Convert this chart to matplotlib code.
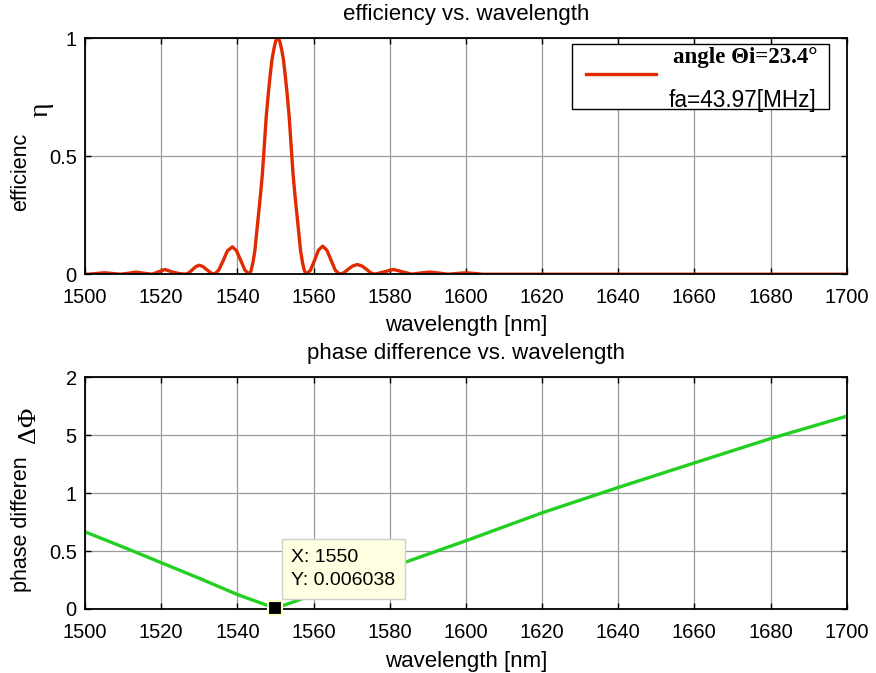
import matplotlib
matplotlib.use("Agg")
import matplotlib.pyplot as plt
from matplotlib.patches import Rectangle
from matplotlib.lines import Line2D

# ---------------- data ----------------
# efficiency vs wavelength
eta_wl = [1500.0, 1501.0, 1503.0, 1505.1, 1507.2, 1509.3, 1511.4, 1513.4, 1515.5, 1517.6,
          1519.3, 1521.0, 1522.8, 1524.6, 1526.4,
          1527.3, 1528.2, 1529.1, 1530.0, 1531.0, 1532.0, 1533.0, 1534.0,
          1535.1, 1536.3, 1537.4, 1538.7, 1539.8, 1540.9, 1542.0, 1543.1,
          1543.6, 1544.1, 1544.6, 1545.1, 1545.6, 1546.1, 1546.6, 1547.1, 1547.6, 1548.1,
          1548.6, 1549.1, 1549.6, 1550.1, 1550.6, 1551.1, 1551.6, 1552.1, 1552.6, 1553.1,
          1553.6, 1554.1, 1554.6, 1555.1, 1555.6, 1556.1, 1556.6, 1557.1, 1557.6, 1558.1,
          1559.2, 1560.3, 1561.3, 1562.4, 1563.5, 1564.6, 1565.7, 1566.8,
          1568.0, 1569.1, 1570.3, 1571.5, 1572.7, 1573.9, 1575.0, 1576.1,
          1578.5, 1581.0, 1583.4, 1585.8, 1588.1, 1590.5, 1592.9, 1595.2,
          1597.6, 1600.0, 1602.3, 1604.5, 1650.0, 1700.0]
eta_val = [0.000, 0.000, 0.003, 0.006, 0.003, 0.000, 0.004, 0.009, 0.004, 0.000,
           0.010, 0.020, 0.010, 0.003, 0.000,
           0.006, 0.019, 0.032, 0.038, 0.032, 0.019, 0.006, 0.000,
           0.017, 0.058, 0.099, 0.116, 0.099, 0.058, 0.017, 0.000,
           0.015, 0.050, 0.100, 0.180, 0.260, 0.340, 0.430, 0.550, 0.670, 0.760,
           0.840, 0.910, 0.955, 0.990, 1.000, 0.990, 0.955, 0.910, 0.840, 0.760,
           0.670, 0.550, 0.430, 0.340, 0.260, 0.180, 0.100, 0.050, 0.015, 0.000,
           0.017, 0.060, 0.102, 0.119, 0.102, 0.060, 0.017, 0.000,
           0.006, 0.021, 0.035, 0.041, 0.035, 0.021, 0.006, 0.000,
           0.010, 0.020, 0.010, 0.000, 0.005, 0.009, 0.005, 0.000,
           0.003, 0.006, 0.003, 0.000, 0.000, 0.000]

# phase difference vs wavelength
phase_wl = [1500, 1510, 1520, 1530, 1540, 1550, 1560, 1580, 1600, 1620, 1640, 1660, 1680, 1700]
phase_val = [0.666, 0.535, 0.400, 0.265, 0.125, 0.006, 0.123, 0.356, 0.589, 0.830,
             1.049, 1.261, 1.471, 1.664]

x_ticks = [1500, 1520, 1540, 1560, 1580, 1600, 1620, 1640, 1660, 1680, 1700]
eta_yticks = [0, 0.5, 1]
eta_yticklabels = ["0", "0.5", "1"]
phase_yticks = [0, 0.5, 1, 1.5, 2]
phase_yticklabels = ["0", "0.5", "1", "5", "2"]

tip_x = 1550
tip_y = 0.006038

# ---------------- figure ----------------
plt.rcParams['font.family'] = ['Liberation Sans', 'DejaVu Sans']
W, H = 876, 673
fig = plt.figure(figsize=(W / 100, H / 100), dpi=100)

def fx(px):
    return px / W

def fy(py):
    return 1 - py / H

ax1 = fig.add_axes([fx(85), fy(274.2), fx(846.7) - fx(85), fy(38.3) - fy(274.2)])
ax2 = fig.add_axes([fx(85), fy(609), fx(846.7) - fx(85), fy(377.3) - fy(609)])

red = '#e02a00'
green = '#22d022'
grid_col = '#9a9a9a'
tick_fs = 14.5
label_fs = 16

for ax in (ax1, ax2):
    ax.set_xlim(1500, 1700)
    ax.set_xticks(x_ticks)
    ax.grid(True, color=grid_col, lw=0.9, ls='-')
    ax.set_axisbelow(True)
    ax.tick_params(direction='in', length=4, width=1, top=True, right=True,
                   labelsize=tick_fs, colors='black')
    ax.tick_params(axis='x', pad=10)
    ax.tick_params(axis='y', pad=6)
    for s in ax.spines.values():
        s.set_linewidth(1.3)
        s.set_color('black')

ax1.plot(eta_wl, eta_val, color=red, lw=2.4, solid_joinstyle='round')
ax1.set_ylim(0, 1)
ax1.set_yticks(eta_yticks)
ax1.set_yticklabels(eta_yticklabels)
ax1.set_title('efficiency vs. wavelength', fontsize=label_fs, pad=13)
ax1.set_xlabel('wavelength [nm]', fontsize=label_fs, labelpad=5.5)

ax2.plot(phase_wl, phase_val, color=green, lw=2.4)
ax2.set_ylim(0, 2)
ax2.set_yticks(phase_yticks)
ax2.set_yticklabels(phase_yticklabels)
ax2.set_title('phase difference vs. wavelength', fontsize=label_fs, pad=13)
ax2.set_xlabel('wavelength [nm]', fontsize=label_fs, labelpad=6.5)

# y labels (split like the reference)
fig.text(fx(21), fy(172), 'efficienc', rotation=90, ha='center', va='center', fontsize=15.5)
fig.text(fx(41), fy(110), 'η', rotation=90, ha='center', va='center', fontsize=20,
         family=['Liberation Serif', 'DejaVu Serif'])
fig.text(fx(22), fy(524), 'phase differen', rotation=90, ha='center', va='center', fontsize=15.5)
fig.text(fx(29), fy(425), 'ΔΦ', rotation=90, ha='center', va='center', fontsize=19,
         family=['Liberation Serif', 'DejaVu Serif'])

# legend box (manual, MATLAB-like)
fig.add_artist(Rectangle((fx(571.7), fy(109)), fx(829.3) - fx(571.7), fy(44) - fy(109),
                         transform=fig.transFigure, facecolor='white', edgecolor='black',
                         lw=1.0, zorder=5))
fig.add_artist(Line2D([fx(586), fx(656)], [fy(74.3), fy(74.3)], transform=fig.transFigure,
                      color=red, lw=2.4, zorder=6))
fig.text(fx(673), fy(58), 'angle Θi=23.4°', ha='left', va='center', fontsize=16.5,
         fontweight='bold', family=['Liberation Serif', 'DejaVu Serif'], zorder=7)
fig.text(fx(669), fy(100), 'fa=43.97[MHz]', ha='left', va='center', fontsize=16.3, zorder=7)

# data tip
ax2.plot([tip_x], [tip_y], marker='s', ms=10, mfc='black', mec='#ffffc8', mew=1.5,
         zorder=10, clip_on=False)
ax2.text(1554.2, 0.345, 'X: %d\nY: %.6f' % (tip_x, tip_y), ha='left', va='center',
         fontsize=14, linespacing=1.45, zorder=9,
         bbox=dict(boxstyle='square,pad=0.5', fc='#ffffe1', ec='#cfcfcf', lw=1))

fig.savefig('out.png', dpi=100)
